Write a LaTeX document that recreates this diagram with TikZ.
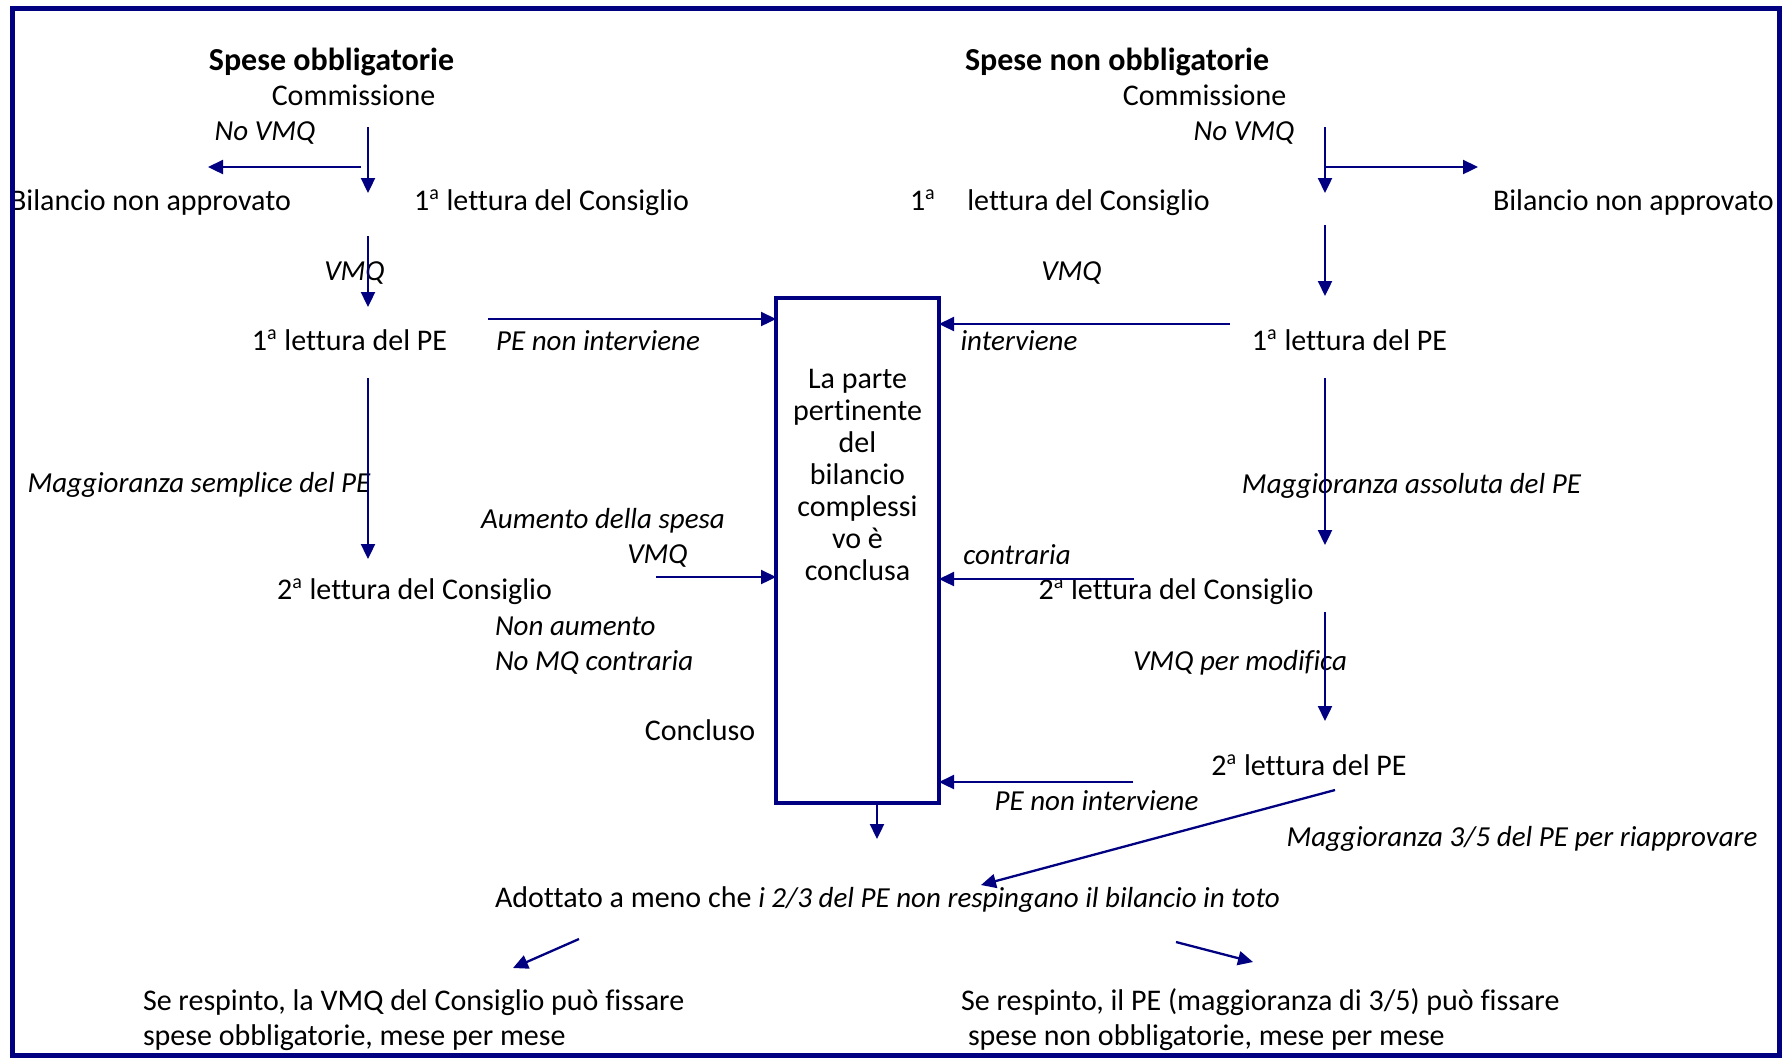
\documentclass[tikz,border=0pt]{standalone}
\usepackage{fontspec}
\setmainfont[Ligatures=NoCommon]{Carlito}
\usetikzlibrary{arrows.meta}
\definecolor{navy}{RGB}{0,0,128}
\newcommand\sz{\fontsize{15}{16}\selectfont}
\newcommand\isz{\fontsize{14.5}{16}\selectfont\itshape}
\tikzset{
  lbl/.style={inner sep=0pt, outer sep=0pt, font=\sz, text=black},
  itl/.style={lbl, font=\isz},
  bld/.style={lbl, font=\fontsize{16}{17}\selectfont\bfseries},
  arr/.style={draw=navy, line width=1.15pt, -{Triangle[length=7.5pt,width=7pt]}},
}
\newcommand\sa{\textsuperscript{\fontsize{10}{10}\selectfont a}}
\begin{document}
\begin{tikzpicture}[x=0.5pt,y=-0.5pt]
\useasboundingbox (0,0) rectangle (1788,1057);

% central box
\node[draw=navy, line width=1.7pt, minimum width=81.5pt, minimum height=252.5pt, inner sep=0pt, outer sep=0pt, anchor=north west] (box) at (776,298) {};
\node[lbl, align=center, anchor=north] (boxtxt) at (857.5,369) {La parte\\pertinente\\del\\bilancio\\complessi\\vo è\\conclusa};

% left column
\node[bld, anchor=base] (t1) at (331.5,70) {Spese obbligatorie};
\node[lbl, anchor=base] (comL) at (353.5,105) {Commissione};
\node[itl, anchor=base] (novmqL) at (265,140) {No VMQ};
\node[lbl, anchor=base east] (bilL) at (291,210) {Bilancio non approvato};
\node[lbl, anchor=base] (c1L) at (551.5,210) {1\sa{} lettura del Consiglio};
\node[itl, anchor=base] (vmqL) at (354.5,280) {VMQ};
\node[lbl, anchor=base] (pe1L) at (349.5,350) {1\sa{} lettura del PE};
\node[itl, anchor=base] (peniL) at (598,350) {PE non interviene};
\node[itl, anchor=base] (msL) at (199,492) {Maggioranza semplice del PE};
\node[itl, anchor=base] (aum) at (603,528) {Aumento della spesa};
\node[itl, anchor=base] (vmqM) at (657.5,563) {VMQ};
\node[lbl, anchor=base] (c2L) at (414.5,599) {2\sa{} lettura del Consiglio};
\node[itl, anchor=base west] (nonaum) at (495,635) {Non aumento};
\node[itl, anchor=base west] (nomq) at (495,670) {No MQ contraria};
\node[lbl, anchor=base] (concl) at (700,740) {Concluso};
\node[lbl, anchor=base west] (adot) at (495,907) {Adottato a meno che {\isz i 2/3 del PE non respingano il bilancio in toto}};
\node[lbl, anchor=base west] (respL1) at (143,1010) {Se respinto, la VMQ del Consiglio può fissare};
\node[lbl, anchor=base west] (respL2) at (143,1045) {spese obbligatorie, mese per mese};

% right column
\node[bld, anchor=base] (t2) at (1117,70) {Spese non obbligatorie};
\node[lbl, anchor=base] (comR) at (1204.5,105) {Commissione};
\node[itl, anchor=base] (novmqR) at (1244,140) {No VMQ};
\node[lbl, anchor=base west] (c1Rn) at (910,210) {1\sa};
\node[lbl, anchor=base] (c1R) at (1088.5,210) {lettura del Consiglio};
\node[lbl, anchor=base west] (bilR) at (1493,210) {Bilancio non approvato};
\node[itl, anchor=base] (vmqR) at (1071.5,280) {VMQ};
\node[itl, anchor=base] (interv) at (1019,350) {interviene};
\node[lbl, anchor=base] (pe1R) at (1349.5,350) {1\sa{} lettura del PE};
\node[itl, anchor=base] (maR) at (1411.5,493) {Maggioranza assoluta del PE};
\node[itl, anchor=base] (contr) at (1017,564) {contraria};
\node[lbl, anchor=base] (c2R) at (1176,599) {2\sa{} lettura del Consiglio};
\node[itl, anchor=base] (vmqmod) at (1240,670) {VMQ per modifica};
\node[lbl, anchor=base] (pe2R) at (1309,775) {2\sa{} lettura del PE};
\node[itl, anchor=base] (peniR) at (1096.5,810) {PE non interviene};
\node[itl, anchor=base] (m35) at (1522,846) {Maggioranza 3/5 del PE per riapprovare};
\node[lbl, anchor=base west] (respR1) at (961,1010) {Se respinto, il PE (maggioranza di 3/5) può fissare};
\node[lbl, anchor=base west] (respR2) at (968,1045) {spese non obbligatorie, mese per mese};

% connector end points
\coordinate (a1s) at (368,127);  \coordinate (a1e) at (368,193);
\coordinate (a2s) at (361,167);  \coordinate (a2e) at (208,167);
\coordinate (a3s) at (368,236);  \coordinate (a3e) at (368,307);
\coordinate (a4s) at (488,319);
\coordinate (a5s) at (368,378);  \coordinate (a5e) at (368,559);
\coordinate (a6s) at (656,577);
\coordinate (a7e) at (877,839);
\coordinate (a8s) at (579,939);  \coordinate (a8e) at (513,968);
\coordinate (a9s) at (1325,127); \coordinate (a9e) at (1325,193);
\coordinate (a10s) at (1325,167); \coordinate (a10e) at (1478,167);
\coordinate (a11s) at (1325,225); \coordinate (a11e) at (1325,296);
\coordinate (a12s) at (1230,324);
\coordinate (a13s) at (1325,378); \coordinate (a13e) at (1325,545);
\coordinate (a14s) at (1134,579);
\coordinate (a15s) at (1325,612); \coordinate (a15e) at (1325,721);
\coordinate (a16s) at (1133,782);
\coordinate (a17s) at (1335,790); \coordinate (a17e) at (981,885);
\coordinate (a18s) at (1176,942); \coordinate (a18e) at (1253,962);

\draw[arr] (a1s) -- (a1e);
\draw[arr] (a2s) -- (a2e);
\draw[arr] (a3s) -- (a3e);
\draw[arr] (a4s) -- (a4s -| box.west);
\draw[arr] (a5s) -- (a5e);
\draw[arr] (a6s) -- (a6s -| box.west);
\draw[arr] (a7e |- box.south) -- (a7e);
\draw[arr] (a8s) -- (a8e);
\draw[arr] (a9s) -- (a9e);
\draw[arr] (a10s) -- (a10e);
\draw[arr] (a11s) -- (a11e);
\draw[arr] (a12s) -- (a12s -| box.east);
\draw[arr] (a13s) -- (a13e);
\draw[arr] (a14s) -- (a14s -| box.east);
\draw[arr] (a15s) -- (a15e);
\draw[arr] (a16s) -- (a16s -| box.east);
\draw[arr] (a17s) -- (a17e);
\draw[arr] (a18s) -- (a18e);

% outer frame
\fill[white] (0,0) rectangle (12,1057);
\fill[white] (1779,0) rectangle (1788,1057);
\draw[navy, line width=2.5pt] (12,8) rectangle (1779,1055);
\end{tikzpicture}
\end{document}
